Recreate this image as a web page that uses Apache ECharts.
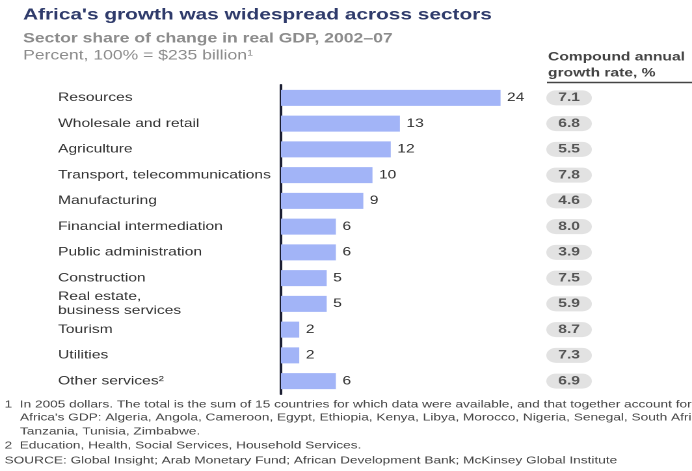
<!DOCTYPE html>
<html>
<head>
<meta charset="utf-8">
<script src="https://cdn.jsdelivr.net/npm/echarts@6/dist/echarts.min.js"></script>
<style>
  html, body { margin: 0; padding: 0; background: #fff; overflow: hidden; }
  /* The chart is laid out in a narrower frame and widened horizontally,
     which gives the wide, stretched lettering of the printed exhibit. */
  #chart {
    width: 532px;
    height: 471px;
    transform: scaleX(1.30075);
    transform-origin: 0 0;
  }
</style>
</head>
<body>
<div id="chart"></div>
<script>
// Sector share of change in real GDP, 2002–07 (percent)
const sectors = [
  'Resources',
  'Wholesale and retail',
  'Agriculture',
  'Transport, telecommunications',
  'Manufacturing',
  'Financial intermediation',
  'Public administration',
  'Construction',
  'Real estate,\nbusiness services',
  'Tourism',
  'Utilities',
  'Other services²'
];
const shareOfChange = [24, 13, 12, 10, 9, 6, 6, 5, 5, 2, 2, 6];
// Compound annual growth rate, %
const growthRate = ['7.1', '6.8', '5.5', '7.8', '4.6', '8.0', '3.9', '7.5', '5.9', '8.7', '7.3', '6.9'];

const FONT = '"Liberation Sans", Arial, sans-serif';
const GRID_TOP = 85, GRID_BOTTOM = 471 - 394;
const AXIS_X = 216;

const chart = echarts.init(document.getElementById('chart'), null, {
  renderer: 'canvas',
  devicePixelRatio: 2
});

chart.setOption({
  animation: false,
  backgroundColor: '#ffffff',
  textStyle: { fontFamily: FONT },
  grid: [
    { left: AXIS_X, width: 211, top: GRID_TOP, bottom: GRID_BOTTOM },
    { left: 420, width: 35, top: GRID_TOP, bottom: GRID_BOTTOM }
  ],
  xAxis: [
    { gridIndex: 0, type: 'value', min: 0, max: 30, show: false },
    { gridIndex: 1, type: 'value', min: 0, max: 1, show: false }
  ],
  yAxis: [
    {
      gridIndex: 0,
      type: 'category',
      inverse: true,
      data: sectors,
      axisLine: { show: true, onZero: false, lineStyle: { color: '#1c1f33', width: 2 } },
      axisTick: { show: false },
      axisLabel: {
        align: 'left',
        margin: AXIS_X - 44.6,
        color: '#333333',
        fontSize: 12,
        fontFamily: FONT,
        lineHeight: 14
      }
    },
    {
      gridIndex: 1,
      type: 'category',
      inverse: true,
      data: sectors,
      show: false
    }
  ],
  series: [
    {
      type: 'bar',
      xAxisIndex: 0,
      yAxisIndex: 0,
      data: shareOfChange,
      barWidth: 16,
      itemStyle: { color: '#a2b4f7' },
      label: {
        show: true,
        position: 'right',
        distance: 5,
        color: '#333333',
        fontSize: 12,
        fontFamily: FONT
      }
    },
    {
      type: 'bar',
      xAxisIndex: 1,
      yAxisIndex: 1,
      data: growthRate.map(() => 1),
      barWidth: 15,
      itemStyle: { color: '#e2e2e2', borderRadius: 7.5 },
      label: {
        show: true,
        position: 'inside',
        formatter: p => growthRate[p.dataIndex],
        color: '#555555',
        fontSize: 12,
        fontWeight: 'bold',
        fontFamily: FONT
      }
    }
  ],
  graphic: [
    { type: 'text', left: 17.7, top: 7, style: { text: "Africa's growth was widespread across sectors", font: 'bold 16px ' + FONT, fill: '#2f3b6b' } },
    { type: 'text', left: 17.7, top: 32, style: { text: 'Sector share of change in real GDP, 2002–07', font: 'bold 13.5px ' + FONT, fill: '#8c8c8c' } },
    { type: 'text', left: 17.7, top: 49, style: { text: 'Percent, 100% = $235 billion¹', font: '13.5px ' + FONT, fill: '#8c8c8c' } },
    { type: 'text', left: 421.3, top: 49, style: { text: 'Compound annual\ngrowth rate, %', font: 'bold 12px ' + FONT, fill: '#444444', lineHeight: 16 } },
    { type: 'line', shape: { x1: 420.5, y1: 82.5, x2: 532, y2: 82.5 }, style: { stroke: '#444444', lineWidth: 1.5 } },
    { type: 'text', left: 3.5, top: 399, style: { text: '1  In 2005 dollars. The total is the sum of 15 countries for which data were available, and that together account for', font: '10.5px ' + FONT, fill: '#444444' } },
    { type: 'text', left: 15.4, top: 412, style: { text: "Africa's GDP: Algeria, Angola, Cameroon, Egypt, Ethiopia, Kenya, Libya, Morocco, Nigeria, Senegal, South Africa,", font: '10.5px ' + FONT, fill: '#444444' } },
    { type: 'text', left: 15.4, top: 426, style: { text: 'Tanzania, Tunisia, Zimbabwe.', font: '10.5px ' + FONT, fill: '#444444' } },
    { type: 'text', left: 3.5, top: 440, style: { text: '2  Education, Health, Social Services, Household Services.', font: '10.5px ' + FONT, fill: '#444444' } },
    { type: 'text', left: 3.5, top: 455, style: { text: 'SOURCE: Global Insight; Arab Monetary Fund; African Development Bank; McKinsey Global Institute', font: '10.5px ' + FONT, fill: '#444444' } }
  ]
});
</script>
</body>
</html>
